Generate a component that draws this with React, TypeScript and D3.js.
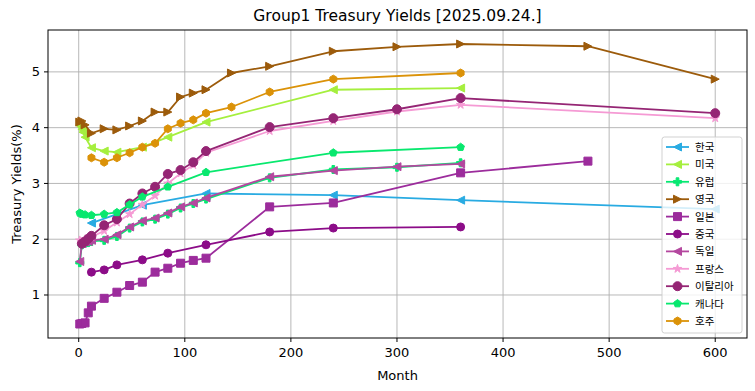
import { useEffect, useRef } from "react";
import * as d3 from "d3";

// maturities in months, yields in %
const koreaMonths = [12, 60, 120, 240, 360, 600];
const koreaYields = [2.29, 2.61, 2.82, 2.79, 2.7, 2.54];

const usMonths = [1, 2, 3, 4, 6, 12, 24, 36, 60, 84, 120, 240, 360];
const usYields = [4.05, 4.02, 3.97, 3.92, 3.83, 3.64, 3.58, 3.56, 3.65, 3.83, 4.1, 4.68, 4.71];

const europeMonths = [1, 3, 6, 9, 12, 24, 36, 48, 60, 72, 84, 96, 108, 120, 180, 240, 300, 360];
const europeYields = [1.58, 1.9, 1.93, 1.94, 1.96, 1.98, 2.05, 2.2, 2.31, 2.36, 2.45, 2.56, 2.64, 2.72, 3.1, 3.25, 3.29, 3.37];

const ukMonths = [1, 3, 6, 12, 24, 36, 48, 60, 72, 84, 96, 108, 120, 144, 180, 240, 300, 360, 480, 600];
const ukYields = [4.1, 4.12, 4.05, 3.9, 3.98, 3.96, 4.03, 4.12, 4.28, 4.28, 4.55, 4.62, 4.68, 4.98, 5.1, 5.37, 5.45, 5.5, 5.46, 4.87];

const japanMonths = [1, 3, 6, 9, 12, 24, 36, 48, 60, 72, 84, 96, 108, 120, 180, 240, 360, 480];
const japanYields = [0.48, 0.49, 0.5, 0.68, 0.8, 0.94, 1.05, 1.17, 1.23, 1.41, 1.48, 1.57, 1.62, 1.66, 2.58, 2.65, 3.19, 3.4];

const chinaMonths = [12, 24, 36, 60, 84, 120, 180, 240, 360];
const chinaYields = [1.41, 1.45, 1.54, 1.63, 1.75, 1.9, 2.13, 2.2, 2.22];

const germanyMonths = [1, 3, 6, 9, 12, 24, 36, 48, 60, 72, 84, 96, 108, 120, 180, 240, 300, 360];
const germanyYields = [1.6, 1.92, 1.95, 1.96, 1.98, 2.0, 2.08, 2.22, 2.33, 2.38, 2.47, 2.58, 2.65, 2.74, 3.12, 3.23, 3.3, 3.35];

const franceMonths = [1, 3, 6, 12, 24, 36, 48, 60, 72, 84, 96, 108, 120, 180, 240, 300, 360, 600];
const franceYields = [1.98, 1.96, 2.0, 2.04, 2.15, 2.3, 2.45, 2.62, 2.78, 3.0, 3.18, 3.33, 3.55, 3.94, 4.12, 4.29, 4.41, 4.17];

const italyMonths = [3, 6, 9, 12, 24, 36, 48, 60, 72, 84, 96, 108, 120, 180, 240, 300, 360, 600];
const italyYields = [1.92, 1.96, 2.01, 2.06, 2.25, 2.36, 2.64, 2.82, 2.94, 3.17, 3.24, 3.38, 3.58, 4.01, 4.17, 4.33, 4.53, 4.26];

const canadaMonths = [1, 3, 6, 12, 24, 36, 48, 60, 84, 120, 240, 360];
const canadaYields = [2.47, 2.45, 2.44, 2.43, 2.45, 2.48, 2.62, 2.76, 2.94, 3.2, 3.55, 3.65];

const australiaMonths = [12, 24, 36, 48, 60, 72, 84, 96, 108, 120, 144, 180, 240, 360];
const australiaYields = [3.46, 3.38, 3.46, 3.55, 3.65, 3.72, 3.98, 4.08, 4.14, 4.26, 4.37, 4.64, 4.87, 4.98];

const xTicks = [0, 100, 200, 300, 400, 500, 600];
const yTicks = [1, 2, 3, 4, 5];

const series = [
  { name: "한국", months: koreaMonths, yields: koreaYields, color: "#29abe2", marker: "<" },
  { name: "미국", months: usMonths, yields: usYields, color: "#a5ef3e", marker: "<" },
  { name: "유럽", months: europeMonths, yields: europeYields, color: "#06e872", marker: "P" },
  { name: "영국", months: ukMonths, yields: ukYields, color: "#9c5b0b", marker: ">" },
  { name: "일본", months: japanMonths, yields: japanYields, color: "#9c2c9c", marker: "s" },
  { name: "중국", months: chinaMonths, yields: chinaYields, color: "#8c0c88", marker: "o" },
  { name: "독일", months: germanyMonths, yields: germanyYields, color: "#b4479f", marker: "<" },
  { name: "프랑스", months: franceMonths, yields: franceYields, color: "#f59ad4", marker: "*" },
  { name: "이탈리아", months: italyMonths, yields: italyYields, color: "#952574", marker: "o" },
  { name: "캐나다", months: canadaMonths, yields: canadaYields, color: "#08e86e", marker: "p" },
  { name: "호주", months: australiaMonths, yields: australiaYields, color: "#db9208", marker: "h" },
];

function polygon(n: number, r: number, inner = 0) {
  const pts: string[] = [];
  const count = inner ? n * 2 : n;
  for (let i = 0; i < count; i++) {
    const a = -Math.PI / 2 + (i * 2 * Math.PI) / count;
    const rr = inner && i % 2 === 1 ? inner : r;
    pts.push(`${(rr * Math.cos(a)).toFixed(2)},${(rr * Math.sin(a)).toFixed(2)}`);
  }
  return "M" + pts.join("L") + "Z";
}

function markerPath(kind: string, s: number) {
  const r = s / 2;
  switch (kind) {
    case "o":
      return d3.symbol(d3.symbolCircle, Math.PI * r * r)() as string;
    case "s":
      return `M${-r},${-r}H${r}V${r}H${-r}Z`;
    case "<":
      return `M${-r},0L${r},${-r}L${r},${r}Z`;
    case ">":
      return `M${r},0L${-r},${-r}L${-r},${r}Z`;
    case "p":
      return polygon(5, r);
    case "h":
      return polygon(6, r);
    case "*":
      return polygon(5, r * 1.1, r * 1.1 * 0.382);
    case "P": {
      const a = s / 6;
      return `M${-a},${-r}H${a}V${-a}H${r}V${a}H${a}V${r}H${-a}V${a}H${-r}V${-a}H${-a}Z`;
    }
  }
  return "";
}

export default function App() {
  const ref = useRef<SVGSVGElement>(null);
  const width = 755;
  const height = 391;

  useEffect(() => {
    if (!ref.current) return;
    const svg = d3.select(ref.current);
    svg.selectAll("*").remove();

    const left = 48, right = 747, top = 30, bottom = 338;
    const font = "DejaVu Sans, Noto Sans CJK KR, sans-serif";

    const x = d3.scaleLinear().domain([-28.95, 629.95]).range([left, right]);
    const y = d3.scaleLinear().domain([0.229, 5.751]).range([bottom, top]);

    svg.append("rect").attr("width", width).attr("height", height).attr("fill", "#fff");

    // grid
    const grid = svg.append("g").attr("stroke", "#b0b0b0").attr("stroke-width", 0.9);
    xTicks.forEach((t) => {
      grid.append("line").attr("x1", x(t)).attr("x2", x(t)).attr("y1", top).attr("y2", bottom);
    });
    yTicks.forEach((t) => {
      grid.append("line").attr("x1", left).attr("x2", right).attr("y1", y(t)).attr("y2", y(t));
    });

    svg
      .append("defs")
      .append("clipPath")
      .attr("id", "plot-clip")
      .append("rect")
      .attr("x", left)
      .attr("y", top)
      .attr("width", right - left)
      .attr("height", bottom - top);

    const plot = svg.append("g").attr("clip-path", "url(#plot-clip)");

    series.forEach((s) => {
      const pts = s.months.map((m, i) => [m, s.yields[i]] as [number, number]);
      const line = d3
        .line<[number, number]>()
        .x((d) => x(d[0]))
        .y((d) => y(d[1]));
      plot
        .append("path")
        .datum(pts)
        .attr("fill", "none")
        .attr("stroke", s.color)
        .attr("stroke-width", 1.8)
        .attr("stroke-linejoin", "round")
        .attr("d", line);
      const size = s.name === "이탈리아" ? 9 : 8;
      plot
        .selectAll(null)
        .data(pts)
        .enter()
        .append("path")
        .attr("transform", (d) => `translate(${x(d[0])},${y(d[1])})`)
        .attr("d", markerPath(s.marker, size))
        .attr("fill", s.color)
        .attr("stroke", s.color)
        .attr("stroke-width", 1)
        .attr("stroke-linejoin", "miter");
    });

    // frame
    svg
      .append("rect")
      .attr("x", left)
      .attr("y", top)
      .attr("width", right - left)
      .attr("height", bottom - top)
      .attr("fill", "none")
      .attr("stroke", "#000")
      .attr("stroke-width", 1);

    // ticks
    const axisG = svg.append("g").attr("font-family", font).attr("font-size", 13).attr("fill", "#000");
    xTicks.forEach((t) => {
      axisG.append("line").attr("x1", x(t)).attr("x2", x(t)).attr("y1", bottom).attr("y2", bottom + 4).attr("stroke", "#000");
      axisG.append("text").attr("x", x(t)).attr("y", bottom + 19).attr("text-anchor", "middle").text(t);
    });
    yTicks.forEach((t) => {
      axisG.append("line").attr("x1", left - 4).attr("x2", left).attr("y1", y(t)).attr("y2", y(t)).attr("stroke", "#000");
      axisG.append("text").attr("x", left - 8).attr("y", y(t) + 4.5).attr("text-anchor", "end").text(t);
    });

    axisG.append("text").attr("x", (left + right) / 2).attr("y", 380).attr("text-anchor", "middle").text("Month");
    axisG
      .append("text")
      .attr("transform", `translate(21,${(top + bottom) / 2}) rotate(-90)`)
      .attr("text-anchor", "middle")
      .text("Treasury Yields(%)");

    svg
      .append("text")
      .attr("x", (left + right) / 2)
      .attr("y", 21)
      .attr("text-anchor", "middle")
      .attr("font-family", font)
      .attr("font-size", 15.5)
      .text("Group1 Treasury Yields [2025.09.24.]");

    // legend
    const lg = svg.append("g");
    lg.append("rect")
      .attr("x", 662)
      .attr("y", 137)
      .attr("width", 80)
      .attr("height", 196)
      .attr("rx", 2.5)
      .attr("fill", "#fff")
      .attr("fill-opacity", 0.8)
      .attr("stroke", "#cccccc")
      .attr("stroke-width", 0.9);
    series.forEach((s, i) => {
      const ly = 147 + i * 17.4;
      lg.append("line").attr("x1", 666).attr("x2", 689).attr("y1", ly).attr("y2", ly).attr("stroke", s.color).attr("stroke-width", 1.8);
      lg.append("path")
        .attr("transform", `translate(677.5,${ly})`)
        .attr("d", markerPath(s.marker, s.name === "이탈리아" ? 9 : 8))
        .attr("fill", s.color)
        .attr("stroke", s.color)
        .attr("stroke-width", 1);
      lg.append("text")
        .attr("x", 695)
        .attr("y", ly + 4)
        .attr("font-family", font)
        .attr("font-size", 10.5)
        .attr("fill", "#000")
        .text(s.name);
    });
  }, []);

  return (
    <svg
      ref={ref}
      width={width}
      height={height}
      style={{ position: "absolute", left: 0, top: 0 }}
    />
  );
}
